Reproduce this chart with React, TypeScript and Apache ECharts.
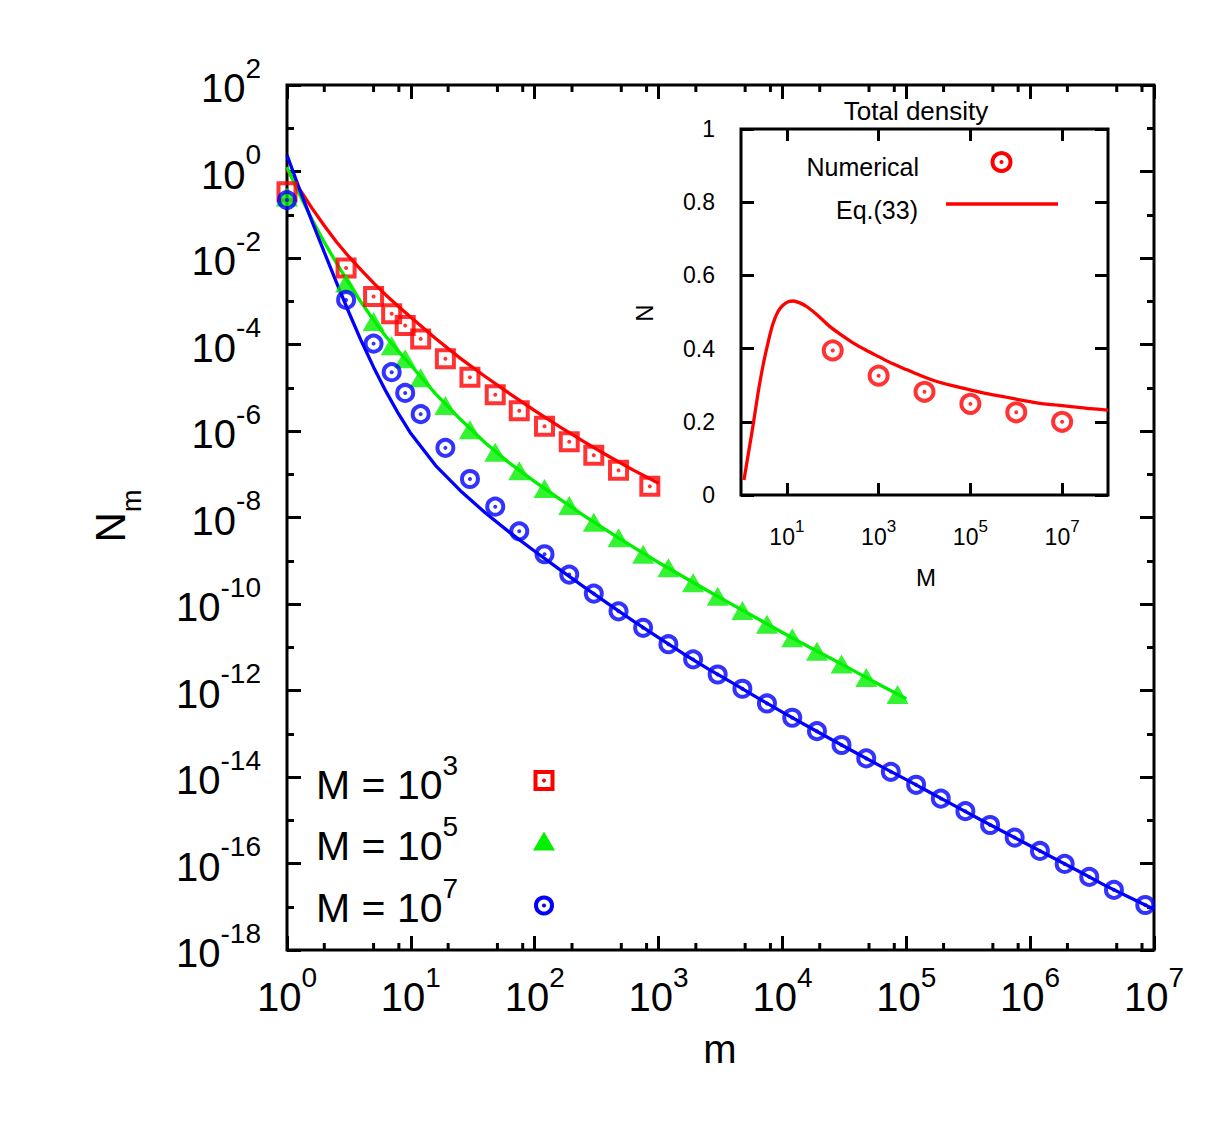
import React, { useEffect, useRef } from 'react';
import * as echarts from 'echarts';

const FONT = '"Liberation Sans", Arial, Helvetica, sans-serif';

// ---------- main panel: simulation markers (m, log10 N_m) ----------
const redM = [1, 3, 5, 7, 9, 12, 19, 30, 48, 75, 120, 190, 300, 475, 850];
const redLogN = [-0.47, -2.23, -2.89, -3.29, -3.56, -3.87, -4.33, -4.76, -5.16, -5.53, -5.89, -6.25, -6.56, -6.91, -7.28];

const greenM = [1, 3, 5, 7, 9, 12, 19, 30, 48, 75, 120, 190, 300, 475, 750, 1200, 1900, 3000, 4750, 7500, 12000, 19000, 30000, 47500, 85000];
const greenLogN = [-0.59, -2.58, -3.47, -4.03, -4.33, -4.77, -5.41, -5.97, -6.49, -6.92, -7.33, -7.72, -8.11, -8.47, -8.85, -9.16, -9.51, -9.82, -10.15, -10.47, -10.78, -11.09, -11.39, -11.7, -12.09];

const blueM = [1, 3, 5, 7, 9, 12, 19, 30, 48, 75, 120, 190, 300, 475, 750, 1200, 1900, 3000, 4750, 7500, 12000, 19000, 30000, 47500, 75000, 120000, 190000, 300000, 475000, 750000, 1.2e6, 1.9e6, 3e6, 4.75e6, 8.5e6];
const blueLogN = [-0.66, -2.97, -3.98, -4.64, -5.12, -5.61, -6.39, -7.11, -7.75, -8.32, -8.85, -9.32, -9.76, -10.17, -10.55, -10.93, -11.28, -11.63, -11.96, -12.3, -12.63, -12.94, -13.26, -13.57, -13.88, -14.18, -14.5, -14.79, -15.11, -15.4, -15.71, -16.01, -16.31, -16.61, -16.96];

// ---------- main panel: theory curves (log10 m, log10 N_m) ----------
const redCurveLogM = [0, 0.1, 0.2, 0.3, 0.4, 0.5, 0.6, 0.7, 0.8, 0.9, 1.0, 1.2, 1.4, 1.6, 1.8, 2.0, 2.2, 2.4, 2.6, 2.8, 3.0];
const redCurveLogN = [0.05, -0.4, -0.84, -1.25, -1.63, -1.97, -2.28, -2.58, -2.86, -3.12, -3.37, -3.86, -4.32, -4.74, -5.14, -5.53, -5.9, -6.25, -6.59, -6.91, -7.21];

const greenCurveLogM = [0, 0.1, 0.2, 0.3, 0.4, 0.5, 0.6, 0.7, 0.8, 0.9, 1.0, 1.2, 1.4, 1.6, 1.8, 2.0, 2.2, 2.4, 2.6, 2.8, 3.0, 3.2, 3.4, 3.6, 3.8, 4.0, 4.2, 4.4, 4.6, 4.8, 5.0];
const greenCurveLogN = [0.1, -0.52, -1.1, -1.63, -2.12, -2.58, -3.03, -3.44, -3.82, -4.16, -4.48, -5.14, -5.73, -6.27, -6.75, -7.17, -7.57, -7.96, -8.33, -8.69, -9.04, -9.37, -9.7, -10.02, -10.34, -10.66, -10.97, -11.27, -11.58, -11.89, -12.19];

const blueCurveLogM = [0, 0.1, 0.2, 0.3, 0.4, 0.5, 0.6, 0.7, 0.8, 0.9, 1.0, 1.2, 1.4, 1.6, 1.8, 2.0, 2.2, 2.4, 2.6, 2.8, 3.0, 3.2, 3.4, 3.6, 3.8, 4.0, 4.2, 4.4, 4.6, 4.8, 5.0, 5.2, 5.4, 5.6, 5.8, 6.0, 6.2, 6.4, 6.6, 6.8, 7.0];
const blueCurveLogN = [0.38, -0.4, -1.14, -1.86, -2.57, -3.26, -3.92, -4.53, -5.09, -5.6, -6.06, -6.8, -7.38, -7.89, -8.35, -8.78, -9.2, -9.61, -10.01, -10.4, -10.78, -11.15, -11.5, -11.83, -12.17, -12.5, -12.82, -13.14, -13.45, -13.76, -14.06, -14.37, -14.68, -14.99, -15.29, -15.59, -15.89, -16.19, -16.5, -16.78, -17.06];

// ---------- main axes ----------
const xDecades = [0, 7];
const yDecades = [-18, 2];
const xMinorMultipliers = [2, 5, 8];

// ---------- inset: total density ----------
const insetM = [1e2, 1e3, 1e4, 1e5, 1e6, 1e7];
const insetN = [0.395, 0.326, 0.282, 0.249, 0.226, 0.2];
const insetCurveLogM = [0.065, 0.17, 0.27, 0.38, 0.49, 0.6, 0.7, 0.81, 0.92, 1.03, 1.14, 1.28, 1.43, 1.68, 1.94, 2.2, 2.45, 2.72, 3.0, 3.3, 3.62, 3.94, 4.27, 4.63, 5.0, 5.36, 5.72, 6.08, 6.45, 6.85, 7.25, 7.62, 8.0];
const insetCurveN = [0.041, 0.12, 0.196, 0.285, 0.36, 0.422, 0.469, 0.502, 0.519, 0.528, 0.53, 0.525, 0.515, 0.49, 0.46, 0.436, 0.415, 0.396, 0.378, 0.359, 0.342, 0.325, 0.31, 0.298, 0.287, 0.277, 0.269, 0.26, 0.252, 0.246, 0.241, 0.236, 0.232];
const insetTickExponents = [1, 3, 5, 7];

const RED = '#ff0000';
const GREEN = '#00f000';
const BLUE = '#0000ff';

const legendLabels = [
  { exp: '3', color: RED, shape: 'square' },
  { exp: '5', color: GREEN, shape: 'triangle' },
  { exp: '7', color: BLUE, shape: 'circle' },
];

const toPairs = (xs: number[], ys: number[]) => xs.map((x, i) => [x, ys[i]]);
const toLogPairs = (ms: number[], ys: number[]) => ms.map((m, i) => [Math.log10(m), ys[i]]);

const tickRich = {
  b: { fontSize: 40, lineHeight: 68, fontFamily: FONT, color: '#000' },
  s: { fontSize: 28, lineHeight: 26, fontFamily: FONT, color: '#000', verticalAlign: 'top' },
};
const insetTickRich = {
  b: { fontSize: 23, lineHeight: 38, fontFamily: FONT, color: '#000' },
  s: { fontSize: 17, lineHeight: 18, fontFamily: FONT, color: '#000', verticalAlign: 'top' },
};

const blackLine = { color: '#000', width: 3 };

export default function App() {
  const ref = useRef<HTMLDivElement>(null);

  useEffect(() => {
    if (!ref.current) return;
    const chart = echarts.init(ref.current, undefined, { renderer: 'svg' });

    const minorTicks: number[][] = [];
    for (let k = xDecades[0]; k < xDecades[1]; k++) {
      xMinorMultipliers.forEach((j) => minorTicks.push([k + Math.log10(j), yDecades[0]]));
    }

    const markerSeries = (
      name: string,
      data: number[][],
      symbol: string,
      size: any,
      color: string,
      hollow: boolean,
      xi = 0,
      yi = 0,
      bw = 3
    ) => ({
      name,
      type: 'scatter',
      xAxisIndex: xi,
      yAxisIndex: yi,
      data,
      symbol,
      symbolSize: size,
      silent: true,
      z: 5,
      itemStyle: hollow
        ? { color: 'rgba(0,0,0,0)', borderColor: color, borderWidth: bw }
        : { color },
      emphasis: { disabled: true },
    });

    const lineSeries = (name: string, data: number[][], color: string, xi = 0, yi = 0, smooth: any = false) => ({
      name,
      type: 'line',
      xAxisIndex: xi,
      yAxisIndex: yi,
      data,
      symbol: 'none',
      smooth,
      silent: true,
      z: 3,
      lineStyle: { color, width: 3.3 },
      emphasis: { disabled: true },
    });

    const graphic: any[] = [];
    // main legend
    const legendY = [784.5, 845.5, 907.5];
    legendLabels.forEach((l, i) => {
      const y = legendY[i];
      graphic.push({
        type: 'text',
        x: 316,
        y,
        style: {
          text: `{b|M = 10}{s|${l.exp}}`,
          align: 'left',
          verticalAlign: 'middle',
          fontFamily: FONT,
          rich: {
            b: { fontSize: 41, lineHeight: 66, fontFamily: FONT, fill: '#000' },
            s: { fontSize: 28, lineHeight: 26, fontFamily: FONT, fill: '#000', verticalAlign: 'top' },
          },
        },
      });
      const cx = 544;
      const cy = y - 4;
      if (l.shape === 'square') {
        graphic.push({ type: 'rect', shape: { x: cx - 8.5, y: cy - 8.5, width: 17, height: 17 }, style: { fill: 'none', stroke: l.color, lineWidth: 4 } });
        graphic.push({ type: 'circle', shape: { cx, cy, r: 2 }, style: { fill: l.color } });
      } else if (l.shape === 'triangle') {
        graphic.push({ type: 'polygon', shape: { points: [[cx, cy - 10], [cx - 11, cy + 9], [cx + 11, cy + 9]] }, style: { fill: l.color } });
      } else {
        graphic.push({ type: 'circle', shape: { cx, cy: cy + 2, r: 8 }, style: { fill: 'none', stroke: l.color, lineWidth: 4 } });
        graphic.push({ type: 'circle', shape: { cx, cy: cy + 2, r: 2 }, style: { fill: l.color } });
      }
    });
    // axis names
    graphic.push({
      type: 'text', x: 720, y: 1049,
      style: { text: 'm', fontSize: 40, fontFamily: FONT, fill: '#000', align: 'center', verticalAlign: 'middle' },
    });
    graphic.push({
      type: 'text', x: 117, y: 516, rotation: Math.PI / 2,
      style: {
        text: '{n|N}{m|m}', align: 'center', verticalAlign: 'middle', fontFamily: FONT,
        rich: {
          n: { fontSize: 42, lineHeight: 44, fontFamily: FONT, fill: '#000', verticalAlign: 'top' },
          m: { fontSize: 27, lineHeight: 56, fontFamily: FONT, fill: '#000', verticalAlign: 'bottom' },
        },
      },
    });
    // inset texts
    graphic.push({
      type: 'text', x: 916, y: 110.5,
      style: { text: 'Total density', fontSize: 26, fontFamily: FONT, fill: '#000', align: 'center', verticalAlign: 'middle' },
    });
    graphic.push({
      type: 'text', x: 926, y: 577,
      style: { text: 'M', fontSize: 24, fontFamily: FONT, fill: '#000', align: 'center', verticalAlign: 'middle' },
    });
    graphic.push({
      type: 'text', x: 644, y: 313, rotation: Math.PI / 2,
      style: { text: 'N', fontSize: 24, fontFamily: FONT, fill: '#000', align: 'center', verticalAlign: 'middle' },
    });
    graphic.push({
      type: 'text', x: 919, y: 167,
      style: { text: 'Numerical', fontSize: 25, fontFamily: FONT, fill: '#000', align: 'right', verticalAlign: 'middle' },
    });
    graphic.push({
      type: 'text', x: 918, y: 210,
      style: { text: 'Eq.(33)', fontSize: 25, fontFamily: FONT, fill: '#000', align: 'right', verticalAlign: 'middle' },
    });
    graphic.push({ type: 'circle', shape: { cx: 1001.5, cy: 162, r: 9 }, style: { fill: 'none', stroke: RED, lineWidth: 4 } });
    graphic.push({ type: 'circle', shape: { cx: 1001.5, cy: 162, r: 2 }, style: { fill: RED } });
    graphic.push({ type: 'line', shape: { x1: 946, y1: 204, x2: 1058, y2: 204 }, style: { stroke: RED, lineWidth: 3.5 } });

    const hiddenAxisLine = { show: false, onZero: false };

    const mainX = (position: string, showLabel: boolean) => ({
      type: 'value',
      gridIndex: 0,
      position,
      min: xDecades[0],
      max: xDecades[1],
      interval: 1,
      axisLine: hiddenAxisLine,
      axisTick: { show: true, inside: true, length: 14, lineStyle: blackLine },
      splitLine: { show: false },
      axisLabel: {
        show: showLabel,
        margin: 13,
        formatter: (v: number) => `{b|10}{s|${v}}`,
        rich: tickRich,
      },
    });
    const mainY = (position: string, showLabel: boolean) => ({
      type: 'value',
      gridIndex: 0,
      position,
      min: yDecades[0],
      max: yDecades[1],
      interval: 2,
      axisLine: hiddenAxisLine,
      axisTick: { show: true, inside: true, length: 14, lineStyle: blackLine },
      minorTick: { show: true, splitNumber: 2, length: 7, lineStyle: blackLine },
      splitLine: { show: false },
      axisLabel: {
        show: showLabel,
        margin: 26,
        padding: [6, 0, 0, 0],
        formatter: (v: number) => `{b|10}{s|${v}}`,
        rich: tickRich,
      },
    });
    const insetX = (position: string, showLabel: boolean) => ({
      type: 'value',
      gridIndex: 1,
      position,
      min: 0,
      max: 8,
      interval: 1,
      axisLine: hiddenAxisLine,
      axisTick: { show: true, inside: true, length: 12, lineStyle: blackLine, customValues: insetTickExponents },
      splitLine: { show: false },
      axisLabel: {
        show: showLabel,
        margin: 23,
        customValues: insetTickExponents,
        formatter: (v: number) => `{b|10}{s|${v}}`,
        rich: insetTickRich,
      },
    });
    const insetY = (position: string, showLabel: boolean) => ({
      type: 'value',
      gridIndex: 1,
      position,
      min: 0,
      max: 1,
      interval: 0.2,
      axisLine: hiddenAxisLine,
      axisTick: { show: true, inside: true, length: 13, lineStyle: blackLine },
      splitLine: { show: false },
      axisLabel: {
        show: showLabel,
        margin: 26,
        fontSize: 23,
        fontFamily: FONT,
        color: '#000',
        formatter: (v: number) => String(Math.round(v * 10) / 10),
      },
    });

    const option: any = {
      animation: false,
      backgroundColor: '#ffffff',
      textStyle: { fontFamily: FONT, color: '#000' },
      grid: [
        { left: 287, top: 85, width: 867, height: 865, show: true, borderColor: '#000', borderWidth: 3, backgroundColor: 'transparent' },
        { left: 741, top: 129, width: 367, height: 366, show: true, borderColor: '#000', borderWidth: 3, backgroundColor: 'transparent' },
      ],
      xAxis: [mainX('bottom', true), mainX('top', false), insetX('bottom', true), insetX('top', false)],
      yAxis: [mainY('left', true), mainY('right', false), insetY('left', true), insetY('right', false)],
      graphic,
      series: [
        {
          type: 'custom',
          xAxisIndex: 0,
          yAxisIndex: 0,
          data: minorTicks,
          silent: true,
          clip: false,
          z: 2,
          renderItem: (params: any, api: any) => {
            const x = api.value(0);
            const b = api.coord([x, yDecades[0]]);
            const t = api.coord([x, yDecades[1]]);
            return {
              type: 'group',
              children: [
                { type: 'line', shape: { x1: b[0], y1: b[1], x2: b[0], y2: b[1] - 7 }, style: { stroke: '#000', lineWidth: 3 } },
                { type: 'line', shape: { x1: t[0], y1: t[1], x2: t[0], y2: t[1] + 7 }, style: { stroke: '#000', lineWidth: 3 } },
              ],
            };
          },
        },
        lineSeries('M=1e3 theory', toPairs(redCurveLogM, redCurveLogN), RED),
        lineSeries('M=1e5 theory', toPairs(greenCurveLogM, greenCurveLogN), GREEN),
        lineSeries('M=1e7 theory', toPairs(blueCurveLogM, blueCurveLogN), BLUE),
        markerSeries('M = 10^3', toLogPairs(redM, redLogN), 'rect', 17, RED, true, 0, 0, 4),
        markerSeries('M = 10^3 dot', toLogPairs(redM, redLogN), 'circle', 4, RED, false),
        markerSeries('M = 10^5', toLogPairs(greenM, greenLogN), 'triangle', [22, 19], GREEN, false),
        markerSeries('M = 10^7', toLogPairs(blueM, blueLogN), 'circle', 16, BLUE, true, 0, 0, 4),
        markerSeries('M = 10^7 dot', toLogPairs(blueM, blueLogN), 'circle', 4, BLUE, false),
        lineSeries('Eq.(33)', toPairs(insetCurveLogM, insetCurveN), RED, 2, 2, 0.3),
        markerSeries('Numerical', toLogPairs(insetM, insetN), 'circle', 18, RED, true, 2, 2, 4),
        markerSeries('Numerical dot', toLogPairs(insetM, insetN), 'circle', 4, RED, false, 2, 2),
      ],
    };

    chart.setOption(option);
    return () => {
      chart.dispose();
    };
  }, []);

  return (
    <div
      ref={ref}
      style={{ position: 'fixed', left: 0, top: 0, width: 1229, height: 1125, background: '#fff' }}
    />
  );
}
